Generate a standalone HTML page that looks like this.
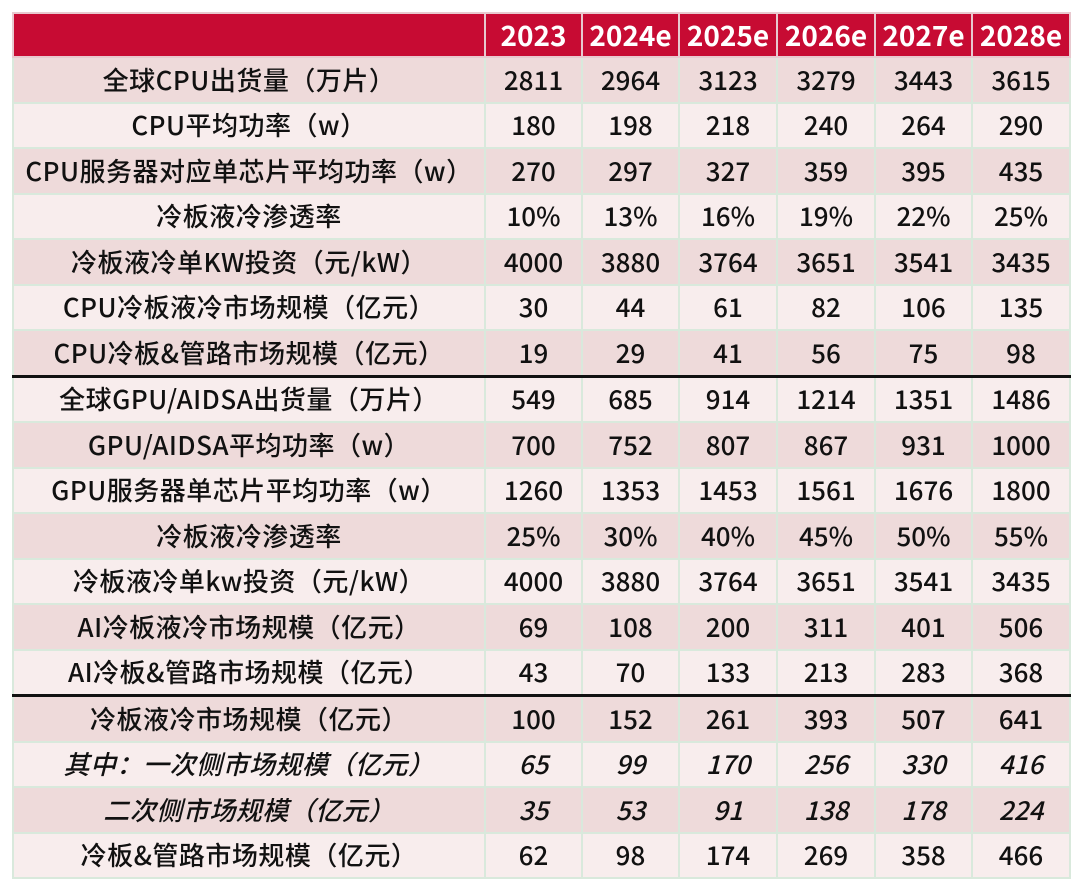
<!DOCTYPE html>
<html><head><meta charset="utf-8"><style>
html,body{margin:0;padding:0;background:#fff;width:1080px;height:890px;overflow:hidden}
table{position:absolute;left:12px;top:12px;border-collapse:collapse;table-layout:fixed;font-family:"Noto Sans CJK SC","Liberation Sans",sans-serif;}
td{border:2px solid #d9e9dc;text-align:center;padding:0;height:43.5px;font-size:26px;font-weight:500;color:#111;white-space:nowrap;overflow:hidden;line-height:30px}
td:first-child{letter-spacing:0.5px}
tr.h td{background:#c70b33;color:#fff;font-weight:bold;font-size:28px;height:42px;border-color:#e8c9cf}
tr.d td{background:#eedada}
tr.l td{background:#f8eded}
tr.b td{border-top:3px solid #111}
tr.i td{font-style:italic}
</style></head><body>
<table>
<colgroup><col style="width:472px"><col style="width:97px"><col style="width:97px"><col style="width:98px"><col style="width:98px"><col style="width:97px"><col style="width:98px"></colgroup>
<tr class="h"><td></td><td>2023</td><td>2024e</td><td>2025e</td><td>2026e</td><td>2027e</td><td>2028e</td></tr>
<tr class="d"><td>全球CPU出货量（万片）</td><td>2811</td><td>2964</td><td>3123</td><td>3279</td><td>3443</td><td>3615</td></tr>
<tr class="l"><td>CPU平均功率（w）</td><td>180</td><td>198</td><td>218</td><td>240</td><td>264</td><td>290</td></tr>
<tr class="d"><td>CPU服务器对应单芯片平均功率（w）</td><td>270</td><td>297</td><td>327</td><td>359</td><td>395</td><td>435</td></tr>
<tr class="l"><td>冷板液冷渗透率</td><td>10%</td><td>13%</td><td>16%</td><td>19%</td><td>22%</td><td>25%</td></tr>
<tr class="d"><td>冷板液冷单KW投资（元/kW）</td><td>4000</td><td>3880</td><td>3764</td><td>3651</td><td>3541</td><td>3435</td></tr>
<tr class="l"><td>CPU冷板液冷市场规模（亿元）</td><td>30</td><td>44</td><td>61</td><td>82</td><td>106</td><td>135</td></tr>
<tr class="d"><td>CPU冷板&amp;管路市场规模（亿元）</td><td>19</td><td>29</td><td>41</td><td>56</td><td>75</td><td>98</td></tr>
<tr class="l b"><td>全球GPU/AIDSA出货量（万片）</td><td>549</td><td>685</td><td>914</td><td>1214</td><td>1351</td><td>1486</td></tr>
<tr class="d"><td>GPU/AIDSA平均功率（w）</td><td>700</td><td>752</td><td>807</td><td>867</td><td>931</td><td>1000</td></tr>
<tr class="l"><td>GPU服务器单芯片平均功率（w）</td><td>1260</td><td>1353</td><td>1453</td><td>1561</td><td>1676</td><td>1800</td></tr>
<tr class="d"><td>冷板液冷渗透率</td><td>25%</td><td>30%</td><td>40%</td><td>45%</td><td>50%</td><td>55%</td></tr>
<tr class="l"><td>冷板液冷单kw投资（元/kW）</td><td>4000</td><td>3880</td><td>3764</td><td>3651</td><td>3541</td><td>3435</td></tr>
<tr class="d"><td>AI冷板液冷市场规模（亿元）</td><td>69</td><td>108</td><td>200</td><td>311</td><td>401</td><td>506</td></tr>
<tr class="l"><td>AI冷板&amp;管路市场规模（亿元）</td><td>43</td><td>70</td><td>133</td><td>213</td><td>283</td><td>368</td></tr>
<tr class="d b"><td>冷板液冷市场规模（亿元）</td><td>100</td><td>152</td><td>261</td><td>393</td><td>507</td><td>641</td></tr>
<tr class="l i"><td>其中：一次侧市场规模（亿元）</td><td>65</td><td>99</td><td>170</td><td>256</td><td>330</td><td>416</td></tr>
<tr class="d i"><td>二次侧市场规模（亿元）</td><td>35</td><td>53</td><td>91</td><td>138</td><td>178</td><td>224</td></tr>
<tr class="l"><td>冷板&amp;管路市场规模（亿元）</td><td>62</td><td>98</td><td>174</td><td>269</td><td>358</td><td>466</td></tr>
</table>
</body></html>
